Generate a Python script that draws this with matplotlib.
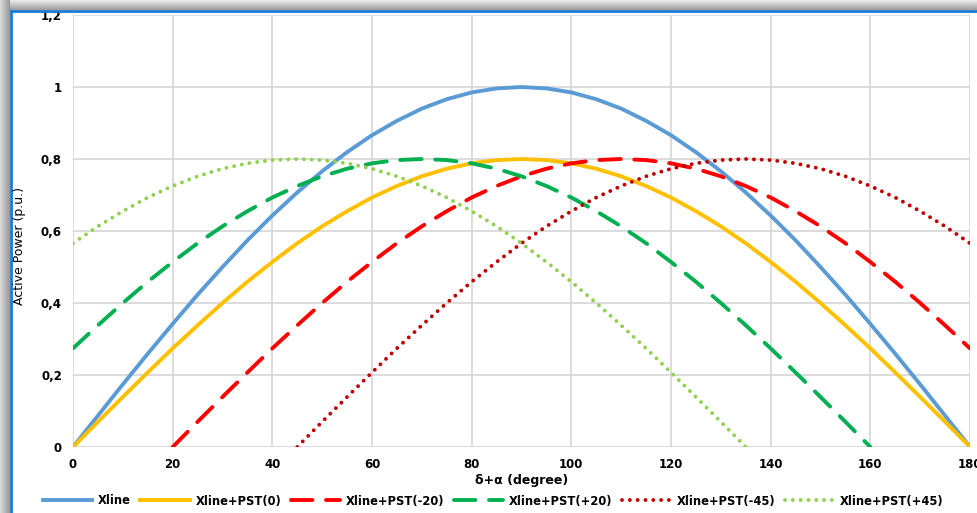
import numpy as np
import matplotlib.pyplot as plt
from matplotlib.lines import Line2D

# === Data (active power in p.u. vs delta+alpha in degrees) ===
x_full = list(range(0, 185, 5))
xline = [0.000, 0.087, 0.174, 0.259, 0.342, 0.423, 0.500, 0.574, 0.643, 0.707,
         0.766, 0.819, 0.866, 0.906, 0.940, 0.966, 0.985, 0.996, 1.000, 0.996,
         0.985, 0.966, 0.940, 0.906, 0.866, 0.819, 0.766, 0.707, 0.643, 0.574,
         0.500, 0.423, 0.342, 0.259, 0.174, 0.087, 0.000]
pst_0 = [0.000, 0.070, 0.139, 0.207, 0.274, 0.338, 0.400, 0.459, 0.514, 0.566,
         0.613, 0.655, 0.693, 0.725, 0.752, 0.773, 0.788, 0.797, 0.800, 0.797,
         0.788, 0.773, 0.752, 0.725, 0.693, 0.655, 0.613, 0.566, 0.514, 0.459,
         0.400, 0.338, 0.274, 0.207, 0.139, 0.070, 0.000]

x_m20 = list(range(20, 185, 5))
pst_m20 = [0.000, 0.070, 0.139, 0.207, 0.274, 0.338, 0.400, 0.459, 0.514, 0.566,
           0.613, 0.655, 0.693, 0.725, 0.752, 0.773, 0.788, 0.797, 0.800, 0.797,
           0.788, 0.773, 0.752, 0.725, 0.693, 0.655, 0.613, 0.566, 0.514, 0.459,
           0.400, 0.338, 0.274]

x_p20 = list(range(0, 165, 5))
pst_p20 = [0.274, 0.338, 0.400, 0.459, 0.514, 0.566, 0.613, 0.655, 0.693, 0.725,
           0.752, 0.773, 0.788, 0.797, 0.800, 0.797, 0.788, 0.773, 0.752, 0.725,
           0.693, 0.655, 0.613, 0.566, 0.514, 0.459, 0.400, 0.338, 0.274, 0.207,
           0.139, 0.070, 0.000]

x_m45 = list(range(45, 185, 5))
pst_m45 = [0.000, 0.070, 0.139, 0.207, 0.274, 0.338, 0.400, 0.459, 0.514, 0.566,
           0.613, 0.655, 0.693, 0.725, 0.752, 0.773, 0.788, 0.797, 0.800, 0.797,
           0.788, 0.773, 0.752, 0.725, 0.693, 0.655, 0.613, 0.566]

x_p45 = list(range(0, 140, 5))
pst_p45 = [0.566, 0.613, 0.655, 0.693, 0.725, 0.752, 0.773, 0.788, 0.797, 0.800,
           0.797, 0.788, 0.773, 0.752, 0.725, 0.693, 0.655, 0.613, 0.566, 0.514,
           0.459, 0.400, 0.338, 0.274, 0.207, 0.139, 0.070, 0.000]

x_ticks = list(range(0, 200, 20))
y_ticks = [0, 0.2, 0.4, 0.6, 0.8, 1.0, 1.2]
y_tick_labels = ['0', '0,2', '0,4', '0,6', '0,8', '1', '1,2']

# === Figure ===
W, H = 977, 513
fig = plt.figure(figsize=(W / 100, H / 100), dpi=100)
fig.patch.set_facecolor('white')

# shadow bands + blue frame
top = fig.add_axes([0, 1 - 10 / H, 1, 10 / H])
top.imshow(np.linspace(0.92, 0.62, 20).reshape(-1, 1), cmap='gray', vmin=0, vmax=1,
           aspect='auto', extent=[0, 1, 0, 1])
top.axis('off')
left = fig.add_axes([0, 0, 10 / W, 1])
left.imshow(np.linspace(0.85, 0.6, 20).reshape(1, -1), cmap='gray', vmin=0, vmax=1,
            aspect='auto', extent=[0, 1, 0, 1])
left.axis('off')
fig.add_artist(Line2D([11 / W, 1], [1 - 11 / H, 1 - 11 / H], color='#1f78d1', lw=2,
                      transform=fig.transFigure))
fig.add_artist(Line2D([11 / W, 11 / W], [0, 1 - 11 / H], color='#1f78d1', lw=2,
                      transform=fig.transFigure))

ax = fig.add_axes([73 / W, 66 / H, 897 / W, 432 / H])

lw = 2.8
dash = (5.5, 3.5)
dot = (0.01, 2.0)
ax.plot(x_full, xline, color='#5b9bd5', lw=lw, solid_joinstyle='round', label='Xline')
ax.plot(x_full, pst_0, color='#ffc000', lw=lw, solid_joinstyle='round', label='Xline+PST(0)')
ax.plot(x_m20, pst_m20, color='#ff0000', lw=lw, dashes=dash, dash_capstyle='round',
        label='Xline+PST(-20)')
ax.plot(x_p20, pst_p20, color='#00b050', lw=lw, dashes=dash, dash_capstyle='round',
        label='Xline+PST(+20)')
ax.plot(x_m45, pst_m45, color='#c00000', lw=lw, dashes=dot, dash_capstyle='round',
        label='Xline+PST(-45)')
ax.plot(x_p45, pst_p45, color='#92d050', lw=lw, dashes=dot, dash_capstyle='round',
        label='Xline+PST(+45)')

ax.set_xlim(0, 180)
ax.set_ylim(0, 1.2)
ax.set_xticks(x_ticks)
ax.set_yticks(y_ticks)
ax.set_yticklabels(y_tick_labels)
ax.grid(True, color='#d9d9d9', lw=1.3)
ax.set_axisbelow(True)
for s in ax.spines.values():
    s.set_visible(False)
ax.tick_params(length=0, labelsize=8.5, pad=8)
for t in ax.get_xticklabels() + ax.get_yticklabels():
    t.set_fontweight('bold')

ax.set_xlabel('δ+α (degree)', fontsize=9, fontweight='bold', labelpad=2)
fig.text(20 / W, 0.52, 'Active Power (p.u.)', rotation=90, ha='center', va='center',
         fontsize=9, family=['Liberation Sans Narrow', 'DejaVu Sans'])

fig.legend(loc='center', bbox_to_anchor=(0.505, 12 / H), ncol=6, frameon=False,
           handlelength=4.3, columnspacing=0.8, handletextpad=0.5,
           prop={'weight': 'bold', 'size': 8.3})

fig.savefig('out.png', dpi=100)
